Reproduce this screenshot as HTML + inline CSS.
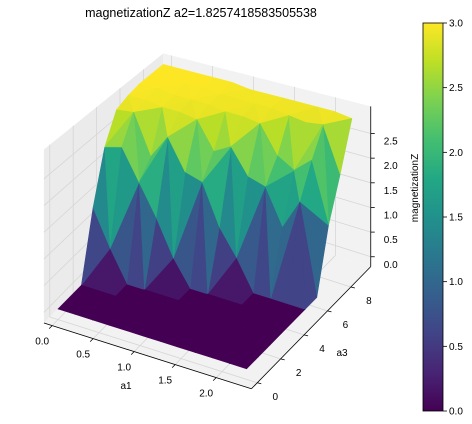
<!DOCTYPE html>
<html><head><meta charset="utf-8"><style>
body{margin:0;background:#fff;}
svg{display:block;font-family:"Liberation Sans","DejaVu Sans",sans-serif;}
</style></head><body>
<svg id="chart" width="472" height="424" viewBox="0 0 472 424">
<defs><linearGradient id="vir" x1="0" y1="1" x2="0" y2="0">
<stop offset="0" stop-color="#440154"/><stop offset="0.1" stop-color="#482475"/><stop offset="0.2" stop-color="#414487"/><stop offset="0.3" stop-color="#355f8d"/><stop offset="0.4" stop-color="#2a788e"/><stop offset="0.5" stop-color="#21918c"/><stop offset="0.6" stop-color="#22a884"/><stop offset="0.7" stop-color="#44bf70"/><stop offset="0.8" stop-color="#7ad151"/><stop offset="0.9" stop-color="#bddf26"/><stop offset="1" stop-color="#fde725"/>
</linearGradient></defs>
<text x="201" y="17" font-size="12.5" text-anchor="middle" fill="#000">magnetizationZ a2=1.8257418583505538</text>
<g id="panes"></g><g id="surf"></g><g id="axes"></g>
<rect x="423" y="23" width="20" height="388" fill="url(#vir)" stroke="#000" stroke-width="0.8"/>
<g id="cbticks"></g>
<text transform="translate(418,188) rotate(-90)" font-size="10" text-anchor="middle" fill="#000">magnetizationZ</text>
</svg>
<script>
const a1Values=[0,0.209,0.418,0.627,0.836,1.045,1.255,1.464,1.673,1.882,2.091,2.3];
const a3Values=[0,1,2,3,4,5,6,7,8,9];
const zByA1=[
[0,0,0,1.3,2.3,2.85,2.95,3.0,3.0,3.0],
[0,0,0,0.6,2.4,2.9,2.95,3.0,3.0,3.0],
[0,0,0,0,1.8,2.1,2.9,2.95,3.0,3.0],
[0,0,0,0,1.2,2.6,2.9,2.95,3.0,3.0],
[0,0,0,0,0.5,2.0,2.85,2.95,2.95,3.0],
[0,0,0,0,0,1.9,2.3,2.9,2.95,2.95],
[0,0,0,0,0,1.1,2.5,2.9,2.95,2.95],
[0,0,0,0,0,0.6,2.0,2.85,2.95,2.95],
[0,0,0,0,0,0,1.9,2.3,2.9,2.95],
[0,0,0,0,0,0,1.2,2.1,2.85,2.95],
[0,0,0,0,0,0,1.8,2.4,2.9,2.95],
[0,0,0,0,0,0,0,1.2,2.0,2.9]];
const a1Ticks=[0,0.5,1,1.5,2];
const a1TickLabels=["0.0","0.5","1.0","1.5","2.0"];
const a3Ticks=[0,2,4,6,8];
const a3TickLabels=["0","2","4","6","8"];
const zTicks=[0,0.5,1,1.5,2,2.5];
const zTickLabels=["0.0","0.5","1.0","1.5","2.0","2.5"];
const cbTicks=[0,0.5,1,1.5,2,2.5,3];
const cbTickLabels=["0.0","0.5","1.0","1.5","2.0","2.5","3.0"];

const B={x0:-0.1,x1:2.43,y0:-0.5,y1:9.7,z0:-0.2,z1:3.05};
function P(a1,a3,z){
  const an=a1/2.33,bn=a3/9.3;
  const f=1-0.14*bn*(1-0.5*an);
  return [58+82*a1+11.7*a3, 309+26*a1-11.9*a3-53*f*z];
}
const NS="http://www.w3.org/2000/svg";
function mk(tag,attrs,parent){const e=document.createElementNS(NS,tag);for(const k in attrs)e.setAttribute(k,attrs[k]);parent.appendChild(e);return e;}
const stops=[[0x44,0x01,0x54],[0x48,0x24,0x75],[0x41,0x44,0x87],[0x35,0x5f,0x8d],[0x2a,0x78,0x8e],[0x21,0x91,0x8c],[0x22,0xa8,0x84],[0x44,0xbf,0x70],[0x7a,0xd1,0x51],[0xbd,0xdf,0x26],[0xfd,0xe7,0x25]];
function vir(t){t=Math.max(0,Math.min(1,t))*10;const i=Math.min(9,Math.floor(t)),f=t-i;const a=stops[i],b=stops[i+1];
  return "rgb("+a.map((v,k)=>Math.round(v+(b[k]-v)*f)).join(",")+")";}
function pts(arr){return arr.map(p=>p[0].toFixed(1)+","+p[1].toFixed(1)).join(" ");}

const panes=document.getElementById('panes');
let e;
e=mk('polygon',{points:pts([P(B.x0,B.y0,B.z0),P(B.x1,B.y0,B.z0),P(B.x1,B.y1,B.z0),P(B.x0,B.y1,B.z0)]),fill:'#f2f2f2',stroke:'none'},panes);


e=mk('polygon',{points:pts([P(B.x0,B.y0,B.z0),P(B.x0,B.y1,B.z0),P(B.x0,B.y1,B.z1),P(B.x0,B.y0,B.z1)]),fill:'#ebebeb',stroke:'none'},panes);


e=mk('polygon',{points:pts([P(B.x0,B.y1,B.z0),P(B.x1,B.y1,B.z0),P(B.x1,B.y1,B.z1),P(B.x0,B.y1,B.z1)]),fill:'#f2f2f2',stroke:'none'},panes);


function gl(p,q,name){const l=mk('line',{x1:p[0],y1:p[1],x2:q[0],y2:q[1],stroke:'#d6d6d6','stroke-width':0.8},panes);
  
  }
a1Ticks.forEach(t=>{gl(P(t,B.y0,B.z0),P(t,B.y1,B.z0),'gridline-a1');gl(P(t,B.y1,B.z0),P(t,B.y1,B.z1),'gridline-a1');});
a3Ticks.forEach(t=>{gl(P(B.x0,t,B.z0),P(B.x1,t,B.z0),'gridline-a3');gl(P(B.x0,t,B.z0),P(B.x0,t,B.z1),'gridline-a3');});
zTicks.forEach(t=>{gl(P(B.x0,B.y0,t),P(B.x0,B.y1,t),'gridline-z');gl(P(B.x0,B.y1,t),P(B.x1,B.y1,t),'gridline-z');});

const surf=document.getElementById('surf');
const tris=[];
const eye=[0.433,-0.75,0.5];
for(let i=0;i<a1Values.length-1;i++)for(let j=0;j<a3Values.length-1;j++){
  const v=(ii,jj)=>[a1Values[ii],a3Values[jj],zByA1[ii][jj]];
  const A=v(i,j),Bv=v(i+1,j),C=v(i+1,j+1),D=v(i,j+1);
  const t=((i+j)%2===0)?[[A,Bv,C],[A,C,D]]:[[A,Bv,D],[Bv,C,D]];
  t.forEach(tr=>tris.push(tr));
}
tris.forEach(tr=>{
  const c=[0,1,2].map(k=>(tr[0][k]+tr[1][k]+tr[2][k])/3);
  tr.depth=eye[0]*c[0]/2.33+eye[1]*c[1]/9.3+eye[2]*c[2]/3*0.75;
  tr.zm=c[2];
});
tris.sort((a,b)=>a.depth-b.depth);
tris.forEach(tr=>{
  const col=vir(tr.zm/3);
  const p=mk('polygon',{points:pts(tr.map(q=>P(q[0],q[1],q[2]))),fill:col,stroke:col,'stroke-width':0.6,'stroke-linejoin':'round'},surf);
  
  
});

const ax=document.getElementById('axes');
function line(p,q,name,w){const l=mk('line',{x1:p[0],y1:p[1],x2:q[0],y2:q[1],stroke:'#000','stroke-width':w||0.8},ax);
  
  }
function txt(x,y,s,name,anchor,size){const t=mk('text',{x:x,y:y,'font-size':size||10,'text-anchor':anchor||'middle',fill:'#000'},ax);t.textContent=s;
  
  }
line(P(B.x0,B.y0,B.z0),P(B.x1,B.y0,B.z0),'a1-axis-line');
line(P(B.x1,B.y0,B.z0),P(B.x1,B.y1,B.z0),'a3-axis-line');
line(P(B.x1,B.y1,B.z0),P(B.x1,B.y1,B.z1),'z-axis-line');
a1Ticks.forEach((t,k)=>{const p=P(t,B.y0,B.z0);line(p,[p[0]-3,p[1]+3],'a1-tick');txt(p[0]-10,p[1]+19,a1TickLabels[k],'a1-tick-label');});
a3Ticks.forEach((t,k)=>{const p=P(B.x1,t,B.z0);line(p,[p[0]+4,p[1]+1],'a3-tick');txt(p[0]+18,p[1]+17,a3TickLabels[k],'a3-tick-label');});
zTicks.forEach((t,k)=>{const p=P(B.x1,B.y1,t);line(p,[p[0]+4,p[1]],'z-tick');txt(p[0]+20,p[1]+11,zTickLabels[k],'z-tick-label');});
txt(126,389,'a1','a1-axis-title');
txt(342,356,'a3','a3-axis-title');

const cb=document.getElementById('cbticks');
const cbY=v=>411-v/3*388;
cbTicks.forEach((t,k)=>{const y=cbY(t);
  const l=mk('line',{x1:443,y1:y,x2:447,y2:y,stroke:'#000','stroke-width':0.8},cb);
  
  
  const tx=mk('text',{x:449,y:y+3.5,'font-size':10,fill:'#000'},cb);tx.textContent=cbTickLabels[k];
  
  
});
</script>
</body></html>
